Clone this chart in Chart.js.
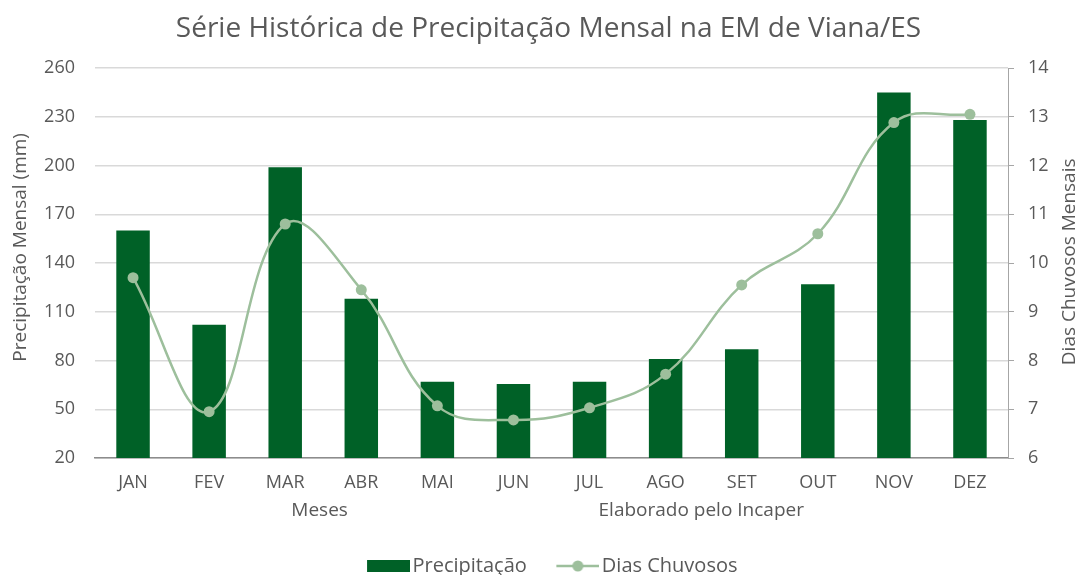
<!DOCTYPE html>
<html lang="pt-BR">
<head>
<meta charset="utf-8">
<title>Precipitação Mensal - Viana/ES</title>
<script src="https://cdn.jsdelivr.net/npm/chart.js@4"></script>
<style>
    html, body { margin: 0; padding: 0; background: #fff; overflow: hidden; }
    #wrap { width: 1081px; height: 586px; position: relative; }
</style>
</head>
<body>
<div id="wrap"><canvas id="chuvaChart"></canvas></div>
<script>
        // Monthly series for the EM Viana/ES station
        const meses = ['JAN', 'FEV', 'MAR', 'ABR', 'MAI', 'JUN', 'JUL', 'AGO', 'SET', 'OUT', 'NOV', 'DEZ'];
        const precipitacao = [160, 102, 199, 118, 67, 65.5, 67, 81, 87, 127, 245, 228];
        const diasChuvosos = [9.7, 6.95, 10.8, 9.45, 7.07, 6.78, 7.03, 7.72, 9.55, 10.6, 12.88, 13.05];

        // Axis ranges
        const precMin = 20, precMax = 260, precStep = 30;
        const diasMin = 6, diasMax = 14, diasStep = 1;

        const verdeEscuro = '#006127';
        const verdeClaro = '#9dbf9c';
        const cinzaTexto = '#595959';
        const fonte = "'Open Sans', 'Noto Sans', sans-serif";

        // Legend markers: drawn wider than the box so the text sits close to them
        const markW = 58;
        function legendBar() {
            const c = document.createElement('canvas');
            c.width = markW; c.height = 12;
            const g = c.getContext('2d');
            g.fillStyle = verdeEscuro;
            g.fillRect(markW - 43, 0, 43, 12);
            return c;
        }
        function legendLine() {
            const c = document.createElement('canvas');
            c.width = markW; c.height = 14;
            const g = c.getContext('2d');
            const x0 = markW - 43;
            g.strokeStyle = verdeClaro;
            g.lineWidth = 2.5;
            g.beginPath(); g.moveTo(x0, 7); g.lineTo(markW, 7); g.stroke();
            g.fillStyle = verdeClaro;
            g.beginPath(); g.arc(x0 + 21.5, 7, 5.5, 0, Math.PI * 2); g.fill();
            return c;
        }

        // Axis titles (both read bottom-to-top) and footer texts
        const textos = {
            id: 'textos',
            afterDraw(chart) {
                const {ctx, chartArea} = chart;
                const w = chartArea.right - chartArea.left;
                const h = chartArea.bottom - chartArea.top;
                ctx.save();
                ctx.font = "19px " + fonte;
                ctx.fillStyle = cinzaTexto;
                ctx.textAlign = 'center';
                ctx.textBaseline = 'middle';
                ctx.fillText('Meses', chartArea.left + w * 0.246, chartArea.bottom + 53);
                ctx.fillText('Elaborado pelo Incaper', chartArea.left + w * 0.664, chartArea.bottom + 53);

                const vertical = (txt, x, y) => {
                    ctx.save();
                    ctx.translate(x, y);
                    ctx.rotate(-Math.PI / 2);
                    ctx.fillText(txt, 0, 0);
                    ctx.restore();
                };
                vertical('Precipitação Mensal (mm)', 21, chartArea.top + h * 0.46);
                vertical('Dias Chuvosos Mensais', 1070, chartArea.top + h * 0.497);
                ctx.restore();
            }
        };

        const ctx = document.getElementById('chuvaChart').getContext('2d');
        const chart = new Chart(ctx, {
            data: {
                labels: meses,
                datasets: [
                    {
                        type: 'line',
                        label: 'Dias Chuvosos',
                        data: diasChuvosos,
                        yAxisID: 'y2',
                        borderColor: verdeClaro,
                        backgroundColor: verdeClaro,
                        borderWidth: 2.5,
                        pointRadius: 5.5,
                        pointBorderWidth: 0,
                        tension: 0.4,
                        order: 0
                    },
                    {
                        type: 'bar',
                        label: 'Precipitação',
                        data: precipitacao,
                        yAxisID: 'y',
                        backgroundColor: verdeEscuro,
                        barPercentage: 0.44,
                        categoryPercentage: 1,
                        order: 1
                    }
                ]
            },
            options: {
                responsive: true,
                maintainAspectRatio: false,
                animation: false,
                // left padding centres title and legend over the plot
                layout: { padding: { left: 16, right: 0, top: 0, bottom: 0 } },
                plugins: {
                    title: {
                        display: true,
                        text: 'Série Histórica de Precipitação Mensal na EM de Viana/ES',
                        color: cinzaTexto,
                        font: { family: fonte, size: 28, weight: 'normal' },
                        padding: { top: 12, bottom: 22.4 }
                    },
                    legend: {
                        position: 'bottom',
                        reverse: true,
                        labels: {
                            usePointStyle: true,
                            pointStyleWidth: 43,
                            boxHeight: 12,
                            padding: 22,
                            color: cinzaTexto,
                            font: { family: fonte, size: 20 },
                            generateLabels: (ch) => {
                                const items = Chart.defaults.plugins.legend.labels.generateLabels(ch);
                                items.forEach(it => {
                                    it.pointStyle = it.datasetIndex === 1 ? legendBar() : legendLine();
                                });
                                return items;
                            }
                        }
                    },
                    tooltip: { enabled: false }
                },
                scales: {
                    x: {
                        grid: { display: false },
                        border: { display: true, color: '#8c8c8c', width: 1.5 },
                        ticks: { color: cinzaTexto, font: { family: fonte, size: 18 }, padding: 6 },
                        afterFit: (s) => { s.height = 76; }
                    },
                    y: {
                        position: 'left',
                        min: precMin,
                        max: precMax,
                        ticks: {
                            stepSize: precStep,
                            color: cinzaTexto,
                            font: { family: fonte, size: 18 },
                            padding: 20
                        },
                        grid: { color: '#d9d9d9', lineWidth: 1.5, drawTicks: false },
                        border: { display: false },
                        afterFit: (s) => { s.width = 79; }
                    },
                    y2: {
                        position: 'right',
                        min: diasMin,
                        max: diasMax,
                        ticks: {
                            stepSize: diasStep,
                            color: cinzaTexto,
                            font: { family: fonte, size: 18 },
                            padding: 14
                        },
                        grid: { drawOnChartArea: false, color: '#a6a6a6', tickLength: 6 },
                        border: { display: true, color: '#a6a6a6' },
                        afterFit: (s) => { s.width = 73; }
                    }
                }
            },
            plugins: [textos]
        });
</script>
</body>
</html>
